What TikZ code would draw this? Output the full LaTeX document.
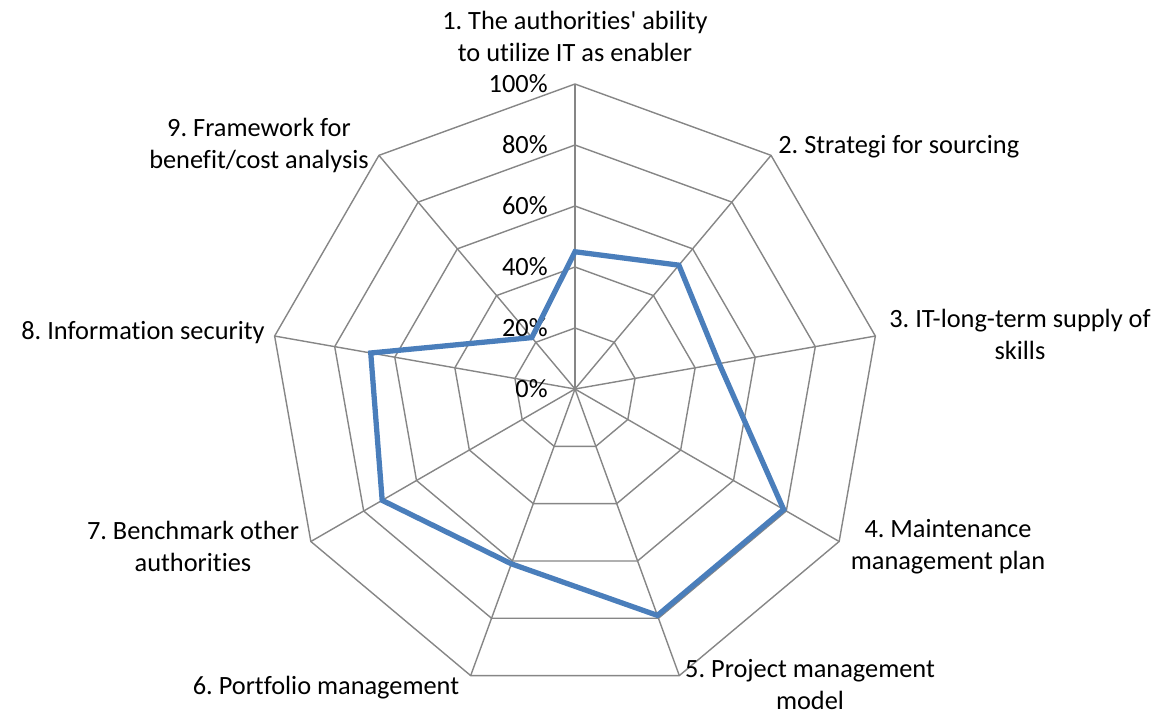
\documentclass[tikz,border=0pt]{standalone}
\usepackage{fontspec}
\setmainfont[Ligatures={NoCommon}]{Carlito}
\usepackage{xcolor}
\usepackage{tikz}
\usetikzlibrary{positioning,calc}
\frenchspacing

\definecolor{gridgray}{RGB}{134,134,134}
\definecolor{seriesblue}{RGB}{74,126,187}

\tikzset{
    grid/.style={draw=gridgray, line width=0.8pt},
    series/.style={draw=seriesblue, line width=3pt, line join=miter},
    axislabel/.style={align=center, inner sep=0pt},
    pctlabel/.style={anchor=east, inner sep=0pt}
}

\begin{document}
\begin{tikzpicture}[x=0.02cm, y=0.02cm, font=\fontsize{15}{18.2}\selectfont]
    % Frame (1160 x 714 px, centre of the chart at 575,389)
    \useasboundingbox (-575,-325) rectangle (585,389);

    % Rings 20% ... 100%
    \foreach \l in {1,...,5}
        \draw[grid] (90:\l*61) \foreach \k in {1,...,8} {-- (90-\k*40:\l*61)} -- cycle;

    % Spokes
    \foreach \k in {1,...,9}
        \draw[grid] (0,0) -- ({130-40*\k}:305);

    % Scale
    \foreach \p [count=\i from 0] in {0,20,40,60,80,100}
        \node[pctlabel] (pct\i) at (-27,\i*61) {\p\%};

    % Data
    \foreach \v [count=\k] in {0.45,0.53,0.48,0.79,0.79,0.61,0.73,0.68,0.22}
        \coordinate (p\k) at ({130-40*\k}:{\v*305});
    \draw[series] (p1) -- (p2) -- (p3) -- (p4) -- (p5) -- (p6) -- (p7) -- (p8) -- (p9) -- cycle;

    % Category labels
    \node[axislabel] (cat1) at (0,353) {1. The authorities\textquotesingle{} ability\\to utilize IT as enabler};
    \node[axislabel, anchor=west] (cat2) at (203,242) {2. Strategi for sourcing};
    \node[axislabel] (cat3) at (445,55) {3. IT-long-term supply of\\skills};
    \node[axislabel] (cat4) at (373,-158) {4. Maintenance\\management plan};
    \node[axislabel] (cat5) at (235,-296) {5. Project management\\model};
    \node[axislabel] (cat6) at (-249,-299) {6. Portfolio management};
    \node[axislabel] (cat7) at (-382,-157) {7. Benchmark other\\authorities};
    \node[axislabel, anchor=east] (cat8) at (-310,56) {8. Information security};
    \node[axislabel] (cat9) at (-316,244) {9. Framework for\\benefit/cost analysis};
\end{tikzpicture}
\end{document}
